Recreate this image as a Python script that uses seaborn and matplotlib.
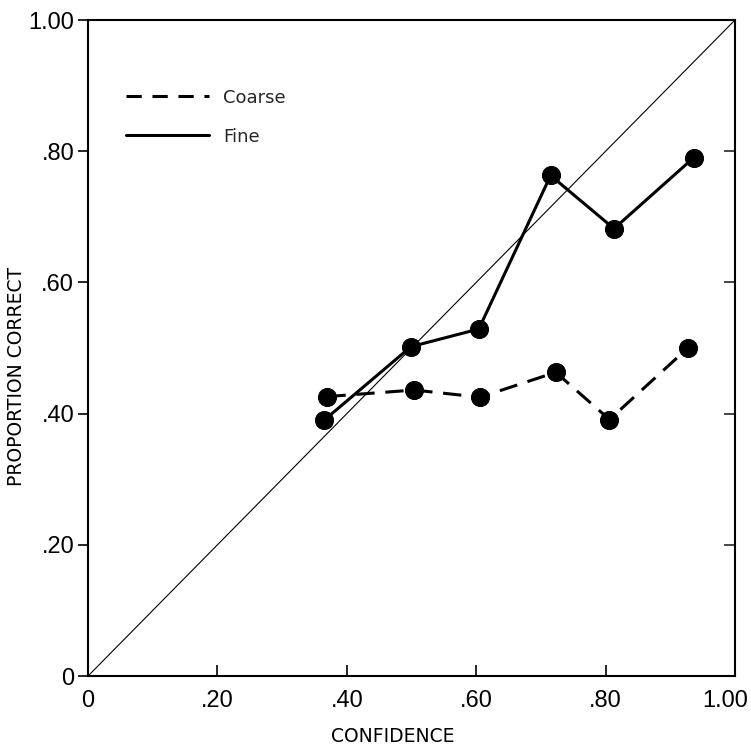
import matplotlib
matplotlib.use("Agg")
import matplotlib.pyplot as plt
import matplotlib.transforms as mtransforms
from matplotlib.lines import Line2D
import seaborn as sns
import pandas as pd

fine_x = [0.365, 0.499, 0.604, 0.715, 0.813, 0.936]
fine_y = [0.390, 0.502, 0.529, 0.763, 0.682, 0.790]
coarse_x = [0.370, 0.504, 0.606, 0.723, 0.806, 0.927]
coarse_y = [0.426, 0.436, 0.425, 0.463, 0.391, 0.500]
tick_vals = [0, 0.2, 0.4, 0.6, 0.8, 1.0]
tick_labels = ["0", ".20", ".40", ".60", ".80", "1.00"]

sns.set_theme(style="ticks")
plt.rcParams["font.family"] = ["Liberation Sans", "DejaVu Sans"]

fig = plt.figure(figsize=(7.51, 7.47), dpi=100)
ax = fig.add_axes([0.1172, 0.0950, 0.8615, 0.8782])

ax.plot([0, 1], [0, 1], color="black", lw=0.8)

df_f = pd.DataFrame({"x": fine_x, "y": fine_y})
df_c = pd.DataFrame({"x": coarse_x, "y": coarse_y})
sns.lineplot(data=df_f, x="x", y="y", ax=ax, color="black", lw=2.2,
             marker="o", markersize=13, markeredgecolor="black", sort=False)
sns.lineplot(data=df_c, x="x", y="y", ax=ax, color="black", lw=2.2,
             marker="o", markersize=13, markeredgecolor="black", sort=False,
             linestyle=(0, (6, 3.5)))

ax.set_xlim(0, 1)
ax.set_ylim(0, 1)
ax.set_xticks(tick_vals)
ax.set_xticklabels(tick_labels)
ax.set_yticks(tick_vals)
ax.set_yticklabels(tick_labels)
ax.tick_params(axis="x", direction="in", length=8, width=1.2, labelsize=17, pad=10,
               colors="black")
ax.tick_params(axis="y", direction="out", length=7, width=1.2, labelsize=17, pad=3,
               colors="black", right=False)
for s in ax.spines.values():
    s.set_linewidth(1.5)
    s.set_color("black")

# keep the last x tick label inside the figure
last = ax.get_xticklabels()[-1]
last.set_transform(last.get_transform() +
                   mtransforms.ScaledTranslation(-0.1, 0, fig.dpi_scale_trans))

# right side ticks inward
ax2 = ax.secondary_yaxis("right")
ax2.set_yticks([0.2, 0.4, 0.6, 0.8])
ax2.tick_params(direction="in", length=8, width=1.2, labelright=False)

ax.set_xlabel("CONFIDENCE", fontsize=13.5, color="black", family="DejaVu Sans")
ax.set_ylabel("PROPORTION CORRECT", fontsize=13.5, color="black", family="DejaVu Sans")
ax.xaxis.set_label_coords(0.471, -0.078)
ax.yaxis.set_label_coords(-0.096, 0.457)

handles = [Line2D([], [], color="black", lw=2.2, linestyle=(0, (5, 3.5))),
           Line2D([], [], color="black", lw=2.2)]
ax.legend(handles, ["Coarse", "Fine"], loc="upper left", bbox_to_anchor=(0.033, 0.92),
          frameon=False, handlelength=4.6, handletextpad=0.8,
          labelspacing=1.15, prop={"family": "DejaVu Sans", "size": 13})

fig.savefig("out.png", dpi=100)
